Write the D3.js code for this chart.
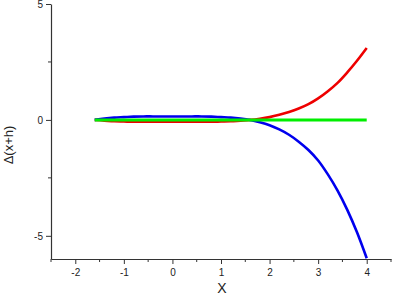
<!DOCTYPE html>
<html><head><meta charset="utf-8">
<script src="https://cdn.jsdelivr.net/npm/d3@7"></script>
<style>body{margin:0;background:#fff}svg{display:block}text{font-family:"Liberation Sans",Arial,sans-serif}</style>
</head><body><svg id="c" width="393" height="297"></svg>
<script>
const xValues = [-1.6,-1.4,-1.2,-1.0,-0.8,-0.6,-0.4,-0.2,0,0.2,0.4,0.6,0.8,1.0,1.2,1.4,1.6,1.8,2.0,2.2,2.4,2.6,2.8,3.0,3.2,3.4,3.6,3.8,4.0];
const redValues = [0,-0.03,-0.06,-0.07,-0.08,-0.08,-0.08,-0.08,-0.08,-0.08,-0.08,-0.08,-0.08,-0.07,-0.06,-0.03,0,0.05,0.12,0.22,0.34,0.49,0.68,0.93,1.24,1.6,2.05,2.55,3.1];
const blueValues = [0,0.06,0.1,0.12,0.14,0.15,0.15,0.15,0.15,0.15,0.15,0.15,0.14,0.12,0.1,0.06,0,-0.1,-0.23,-0.41,-0.64,-0.94,-1.3,-1.75,-2.35,-3.05,-3.88,-4.85,-5.97];
const greenValues = xValues.map(() => 0);
const xTicks = [-2,-1,0,1,2,3,4];
const xMinor = [-2.5,-1.5,-0.5,0.5,1.5,2.5,3.5,4.5];
const yTicks = [-5,0,5];
const yMinor = [-2.5,2.5];

const svg = d3.select("#c");
const x = d3.scaleLinear().domain([-2.5,4.5]).range([51,391]);
const y = d3.scaleLinear().domain([-6,5]).range([259,4]);
const axisColor = "#333";

const line = (vals) => d3.line().x((d,i)=>x(xValues[i])).y(d=>y(d)).curve(d3.curveCatmullRom)(vals);
const series = [[redValues,"#ee0000"],[blueValues,"#0000ee"],[greenValues,"#00ee00"]];
series.forEach(([v,c])=>{
  svg.append("path").attr("d",line(v)).attr("fill","none").attr("stroke",c).attr("stroke-width",c==="#00ee00"?3:2.6);
});

const fmt = d => String(d);
// x axis
const gx = svg.append("g").attr("transform",`translate(0,${y(-6)})`)
  .call(d3.axisBottom(x).tickValues(xTicks).tickSize(5).tickSizeOuter(0).tickFormat(fmt));
gx.append("g").selectAll("line").data(xMinor).join("line")
  .attr("x1",d=>x(d)).attr("x2",d=>x(d)).attr("y1",0).attr("y2",3).attr("stroke",axisColor);
// y axis
const gy = svg.append("g").attr("transform",`translate(${x(-2.5)},0)`)
  .call(d3.axisLeft(y).tickValues(yTicks).tickSize(5).tickSizeOuter(0).tickFormat(fmt));
gy.append("g").selectAll("line").data(yMinor).join("line")
  .attr("y1",d=>y(d)).attr("y2",d=>y(d)).attr("x1",0).attr("x2",-3).attr("stroke",axisColor);
[gx,gy].forEach(g=>{
  g.select(".domain").attr("stroke",axisColor).attr("stroke-width",1.2);
  g.selectAll(".tick line").attr("stroke",axisColor);
  g.selectAll("text").attr("font-family","Liberation Sans, Arial, sans-serif").attr("font-size",10).attr("fill","#222");
});
gx.selectAll(".tick text").attr("dy","0.9em");

svg.append("text").attr("x",222).attr("y",293).attr("text-anchor","middle").attr("font-size",14).attr("fill","#222").text("X");
svg.append("text").attr("transform","translate(13,145) rotate(-90)").attr("text-anchor","middle").attr("font-size",13).attr("fill","#222").text("Δ(x+h)");
</script></body></html>
